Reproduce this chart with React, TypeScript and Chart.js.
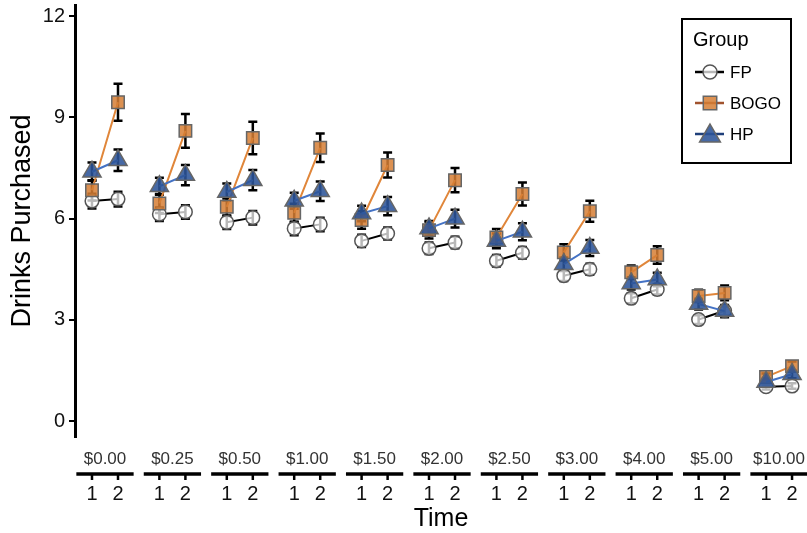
import React, { useEffect, useRef } from "react";
import { Chart, registerables } from "chart.js";

Chart.register(...registerables);

// ---- data ----
const prices = ["$0.00", "$0.25", "$0.50", "$1.00", "$1.50", "$2.00", "$2.50", "$3.00", "$4.00", "$5.00", "$10.00"];
const timeLabels = ["1", "2"];
const yTickValues = [0, 3, 6, 9, 12];
const groupNames = ["FP", "BOGO", "HP"];

const fpTime1 = [6.52, 6.13, 5.89, 5.71, 5.34, 5.12, 4.75, 4.31, 3.64, 3.01, 1.02];
const fpTime2 = [6.58, 6.2, 6.03, 5.83, 5.56, 5.29, 4.99, 4.5, 3.9, 3.27, 1.04];
const bogoTime1 = [6.84, 6.45, 6.35, 6.17, 5.96, 5.66, 5.44, 5.0, 4.41, 3.71, 1.31];
const bogoTime2 = [9.45, 8.6, 8.39, 8.1, 7.59, 7.14, 6.73, 6.22, 4.92, 3.8, 1.63];
const hpTime1 = [7.39, 6.96, 6.79, 6.53, 6.15, 5.71, 5.34, 4.65, 4.08, 3.47, 1.16];
const hpTime2 = [7.73, 7.29, 7.14, 6.81, 6.37, 6.0, 5.61, 5.13, 4.2, 3.26, 1.39];

const fpSe1 = [0.22, 0.2, 0.2, 0.2, 0.18, 0.17, 0.17, 0.16, 0.15, 0.13, 0.08];
const fpSe2 = [0.22, 0.2, 0.2, 0.2, 0.18, 0.17, 0.17, 0.16, 0.15, 0.13, 0.08];
const bogoSe1 = [0.3, 0.28, 0.27, 0.27, 0.26, 0.25, 0.25, 0.24, 0.2, 0.18, 0.1];
const bogoSe2 = [0.55, 0.5, 0.48, 0.42, 0.37, 0.36, 0.34, 0.31, 0.26, 0.22, 0.14];
const hpSe1 = [0.27, 0.25, 0.25, 0.24, 0.23, 0.22, 0.22, 0.2, 0.18, 0.16, 0.1];
const hpSe2 = [0.32, 0.3, 0.3, 0.29, 0.27, 0.26, 0.25, 0.24, 0.2, 0.18, 0.12];

// layout of facets on a continuous x scale
const TIME_OFFSET = 0.193;
const PANEL_HALF = 0.425;

const FONT = "'Liberation Sans', Arial, Helvetica, sans-serif";

function buildPoints(t1: number[], t2: number[], s1: number[], s2: number[]) {
  const pts: any[] = [];
  t1.forEach((_, p) => {
    pts.push({ x: p - TIME_OFFSET, y: t1[p], se: s1[p] });
    pts.push({ x: p + TIME_OFFSET, y: t2[p], se: s2[p] });
    pts.push({ x: p + 0.5, y: null, se: 0 });
  });
  return pts;
}

const errorBarPlugin = {
  id: "errorBars",
  beforeDatasetsDraw(chart: any) {
    const { ctx } = chart;
    const xs = chart.scales.x;
    const ys = chart.scales.y;
    ctx.save();
    ctx.strokeStyle = "#000";
    ctx.lineWidth = 2.5;
    chart.data.datasets.forEach((ds: any) => {
      ds.data.forEach((pt: any) => {
        if (pt.y == null) return;
        const px = xs.getPixelForValue(pt.x);
        const top = ys.getPixelForValue(pt.y + pt.se);
        const bot = ys.getPixelForValue(pt.y - pt.se);
        ctx.beginPath();
        ctx.moveTo(px, top);
        ctx.lineTo(px, bot);
        ctx.moveTo(px - 4.5, top);
        ctx.lineTo(px + 4.5, top);
        ctx.moveTo(px - 4.5, bot);
        ctx.lineTo(px + 4.5, bot);
        ctx.stroke();
      });
    });
    ctx.restore();
  },
};

const facetAxisPlugin = {
  id: "facetAxis",
  afterDraw(chart: any) {
    const { ctx, chartArea } = chart;
    const xs = chart.scales.x;
    ctx.save();
    prices.forEach((label, p) => {
      const cx = xs.getPixelForValue(p);
      const l = xs.getPixelForValue(p - PANEL_HALF);
      const r = xs.getPixelForValue(p + PANEL_HALF);
      ctx.fillStyle = "#333";
      ctx.font = `17px ${FONT}`;
      ctx.textAlign = "center";
      ctx.textBaseline = "middle";
      ctx.fillText(label, cx, 459);
      ctx.strokeStyle = "#000";
      ctx.lineWidth = 3.5;
      ctx.beginPath();
      ctx.moveTo(l, 474);
      ctx.lineTo(r, 474);
      ctx.stroke();
      timeLabels.forEach((t, i) => {
        const tx = xs.getPixelForValue(p + (i === 0 ? -TIME_OFFSET : TIME_OFFSET));
        ctx.lineWidth = 2.5;
        ctx.beginPath();
        ctx.moveTo(tx, 474);
        ctx.lineTo(tx, 480);
        ctx.stroke();
        ctx.fillStyle = "#111";
        ctx.font = `20px ${FONT}`;
        ctx.fillText(t, tx, 494);
      });
    });
    ctx.fillStyle = "#000";
    ctx.font = `25px ${FONT}`;
    ctx.textAlign = "center";
    ctx.textBaseline = "middle";
    ctx.fillText("Time", (chartArea.left + chartArea.right) / 2, 519);
    ctx.restore();
  },
};

function drawMarker(ctx: CanvasRenderingContext2D, style: string, x: number, y: number, r: number, fill: string, stroke: string) {
  ctx.fillStyle = fill;
  ctx.strokeStyle = stroke;
  ctx.lineWidth = 1.5;
  ctx.beginPath();
  if (style === "circle") {
    ctx.arc(x, y, r, 0, Math.PI * 2);
  } else if (style === "rect") {
    const s = Math.SQRT1_2 * r;
    ctx.rect(x - s, y - s, 2 * s, 2 * s);
  } else {
    ctx.moveTo(x, y - r);
    ctx.lineTo(x + r * Math.sin((2 * Math.PI) / 3), y - r * Math.cos((2 * Math.PI) / 3));
    ctx.lineTo(x + r * Math.sin((4 * Math.PI) / 3), y - r * Math.cos((4 * Math.PI) / 3));
    ctx.closePath();
  }
  ctx.fill();
  ctx.stroke();
}

const legendPlugin = {
  id: "groupLegend",
  afterDraw(chart: any) {
    const { ctx } = chart;
    ctx.save();
    ctx.fillStyle = "#fff";
    ctx.fillRect(682, 19, 109, 144);
    ctx.strokeStyle = "#000";
    ctx.lineWidth = 2;
    ctx.strokeRect(682, 19, 109, 144);
    ctx.fillStyle = "#000";
    ctx.font = `20px ${FONT}`;
    ctx.textAlign = "left";
    ctx.textBaseline = "middle";
    ctx.fillText("Group", 693, 40);
    const rowsY = [72, 103, 134];
    const legendLineColors = ["#000", "#a0522d", "#1f3f7a"];
    const legendRadius = [7, 9.5, 12];
    groupNames.forEach((name, i) => {
      const ds = chart.data.datasets.find((d: any) => d.label === name);
      const y = rowsY[i];
      ctx.strokeStyle = legendLineColors[i];
      ctx.lineWidth = 2.5;
      ctx.beginPath();
      ctx.moveTo(695, y);
      ctx.lineTo(724, y);
      ctx.stroke();
      drawMarker(ctx, ds.pointStyle, 710, i === 2 ? y + 2 : y, legendRadius[i], ds.pointBackgroundColor, ds.pointBorderColor);
      ctx.fillStyle = "#000";
      ctx.font = `17px ${FONT}`;
      ctx.fillText(name, 730, y + 1);
    });
    ctx.restore();
  },
};

export default function App() {
  const ref = useRef<HTMLCanvasElement | null>(null);
  useEffect(() => {
    document.body.style.margin = "0";
    if (!ref.current) return;
    Chart.defaults.font.family = FONT;
    const chart = new Chart(ref.current, {
      type: "line",
      data: {
        datasets: [
          {
            label: "FP",
            data: buildPoints(fpTime1, fpTime2, fpSe1, fpSe2),
            borderColor: "#000",
            borderWidth: 2,
            pointStyle: "circle",
            pointRadius: 6.8,
            pointBackgroundColor: "rgba(255,255,255,0.72)",
            pointBorderColor: "#555",
            pointBorderWidth: 1.5,
            spanGaps: false,
            order: 2,
          },
          {
            label: "BOGO",
            data: buildPoints(bogoTime1, bogoTime2, bogoSe1, bogoSe2),
            borderColor: "#e0863a",
            borderWidth: 2,
            pointStyle: "rect",
            pointRadius: 8.8,
            pointBackgroundColor: "rgba(214,126,52,0.85)",
            pointBorderColor: "#666",
            pointBorderWidth: 1.5,
            spanGaps: false,
            order: 1,
          },
          {
            label: "HP",
            data: buildPoints(hpTime1, hpTime2, hpSe1, hpSe2),
            borderColor: "#4472c4",
            borderWidth: 2,
            pointStyle: "triangle",
            pointRadius: 10.5,
            pointBackgroundColor: "rgba(44,84,152,0.88)",
            pointBorderColor: "#666",
            pointBorderWidth: 1.5,
            spanGaps: false,
            order: 0,
          },
        ] as any,
      },
      options: {
        animation: false,
        responsive: false,
        events: [],
        layout: { autoPadding: false, padding: { left: 0, right: 0, top: 5, bottom: 96 } },
        plugins: { legend: { display: false }, tooltip: { enabled: false } },
        scales: {
          x: { type: "linear", min: -0.445, max: 10.415, display: false },
          y: {
            type: "linear",
            min: -0.47,
            max: 12.33,
            afterBuildTicks: (scale: any) => {
              scale.ticks = yTickValues.map((v) => ({ value: v }));
            },
            afterFit: (scale: any) => {
              scale.width = 75;
              scale.paddingTop = 0;
              scale.paddingBottom = 0;
            },
            border: { display: true, color: "#000", width: 3 },
            grid: { drawOnChartArea: false, drawTicks: true, tickLength: 6, color: "#000", lineWidth: 2 },
            ticks: { color: "#111", font: { size: 20 }, padding: 4, callback: (v: any) => String(v) },
            title: { display: true, text: "Drinks Purchased", color: "#000", font: { size: 27 }, padding: { top: 6, bottom: 0 } },
          },
        },
      } as any,
      plugins: [errorBarPlugin, facetAxisPlugin, legendPlugin],
    });
    return () => chart.destroy();
  }, []);
  return (
    <div style={{ width: 807, height: 533 }}>
      <canvas ref={ref} width={807} height={533} style={{ display: "block" }} />
    </div>
  );
}
